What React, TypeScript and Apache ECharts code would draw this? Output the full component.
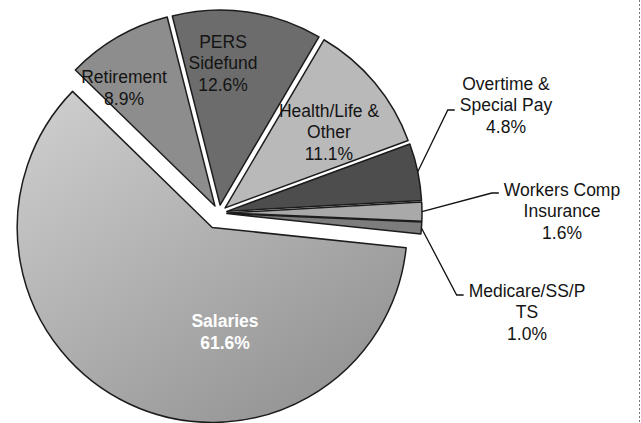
import React, { useEffect, useRef } from "react";
import * as echarts from "echarts";

// ---- data ----
const categories = [
  "Salaries",
  "Retirement",
  "PERS Sidefund",
  "Health/Life & Other",
  "Overtime & Special Pay",
  "Workers Comp Insurance",
  "Medicare/SS/PTS",
];
const values = [61.6, 8.9, 12.6, 11.1, 4.8, 1.6, 1.0];
const labelLines = [
  "Salaries",
  "Retirement",
  "PERS\nSidefund",
  "Health/Life &\nOther",
  "Overtime &\nSpecial Pay",
  "Workers Comp\nInsurance",
  "Medicare/SS/P\nTS",
];

// ---- styles / layout (not data) ----
const sliceColors: any[] = [
  {
    type: "linear",
    x: 0,
    y: 0,
    x2: 0.8,
    y2: 1,
    colorStops: [
      { offset: 0, color: "#d0d0d0" },
      { offset: 1, color: "#929292" },
    ],
  },
  "#8d8d8d",
  "#6c6c6c",
  "#b9b9b9",
  "#4d4d4d",
  "#a9a9a9",
  "#7d7d7d",
];
// label block centres (px) and leader anchor offset
const labelPlace: Record<string, { x: number; y: number; lead?: number }> = {
  "Salaries": { x: 225, y: 332 },
  "Retirement": { x: 124, y: 88 },
  "PERS Sidefund": { x: 223, y: 63 },
  "Health/Life & Other": { x: 329, y: 132 },
  "Overtime & Special Pay": { x: 506, y: 105, lead: 5 },
  "Workers Comp Insurance": { x: 562, y: 211, lead: -18 },
  "Medicare/SS/PTS": { x: 527, y: 312, lead: -17 },
};
const outsideNames = new Set([
  "Overtime & Special Pay",
  "Workers Comp Insurance",
  "Medicare/SS/PTS",
]);

const FONT = "'Liberation Sans', Arial, sans-serif";
const CENTER = [219, 213];
const RADIUS = 195;
const OFFSET_OTHERS = 8;
const OFFSET_SALARIES = 16;

const hidden = {
  color: "rgba(0,0,0,0)",
  borderColor: "rgba(0,0,0,0)",
  borderWidth: 0,
};

function sliceData(visible: (i: number) => boolean) {
  return categories.map((name, i) => {
    const vis = visible(i);
    const itemStyle = vis
      ? { color: sliceColors[i], borderColor: "#1c1c1c", borderWidth: 1.5 }
      : hidden;
    return {
      name,
      value: values[i],
      selected: true,
      itemStyle,
      select: { itemStyle },
      label: { show: false },
      labelLine: { show: false },
    };
  });
}

function labelData() {
  return categories.map((name, i) => {
    const isSal = i === 0;
    const outside = outsideNames.has(name);
    return {
      name,
      value: values[i],
      itemStyle: hidden,
      label: {
        show: true,
        position: outside ? "outside" : "inside",
        formatter: () => `${labelLines[i]}\n${values[i].toFixed(1)}%`,
        color: isSal ? "#ffffff" : "#141414",
        fontWeight: isSal ? "bold" : "normal",
        fontSize: 17.5,
        lineHeight: 21.5,
        fontFamily: FONT,
        align: "center",
      },
      labelLine: {
        show: outside,
        lineStyle: { color: "#111", width: 1.3 },
      },
    };
  });
}

function labelLayout(params: any) {
  const name = categories[params.dataIndex];
  const p = labelPlace[name];
  if (!p) return {};
  const res: any = {
    x: p.x,
    y: p.y,
    align: "center",
    verticalAlign: "middle",
  };
  if (outsideNames.has(name) && params.labelLinePoints) {
    const s = params.labelLinePoints[0];
    // move start point with the exploded slice
    const dx = s[0] - CENTER[0];
    const dy = s[1] - CENTER[1];
    const len = Math.sqrt(dx * dx + dy * dy) || 1;
    const sx = s[0] + (dx / len) * OFFSET_OTHERS;
    const sy = s[1] + (dy / len) * OFFSET_OTHERS;
    const left = p.x - params.labelRect.width / 2;
    const ay = p.y + (p.lead || 0);
    res.labelLinePoints = [
      [sx, sy],
      [left - 12, ay],
      [left - 5, ay],
    ];
  }
  return res;
}

export default function App() {
  const ref = useRef<HTMLDivElement>(null);
  useEffect(() => {
    if (!ref.current) return;
    const chart = echarts.init(ref.current, undefined, { renderer: "svg" });
    const common = {
      type: "pie",
      center: CENTER,
      radius: [0, RADIUS],
      startAngle: -6,
      clockwise: true,
      avoidLabelOverlap: false,
      emphasis: { disabled: true },
      animation: false,
    };
    chart.setOption({
      animation: false,
      backgroundColor: "#ffffff",
      series: [
        {
          ...common,
          name: "others",
          selectedMode: "multiple",
          selectedOffset: OFFSET_OTHERS,
          data: sliceData((i) => i !== 0),
        },
        {
          ...common,
          name: "salaries",
          selectedMode: "multiple",
          selectedOffset: OFFSET_SALARIES,
          data: sliceData((i) => i === 0),
        },
        {
          ...common,
          name: "labels",
          selectedMode: false,
          silent: true,
          data: labelData(),
          labelLayout,
        },
      ],
      graphic: [
        {
          type: "line",
          shape: { x1: 639.5, y1: 0, x2: 639.5, y2: 423 },
          style: { stroke: "#777", lineWidth: 1, lineDash: [2, 2] },
        },
      ],
    });
    return () => chart.dispose();
  }, []);
  return (
    <div
      ref={ref}
      style={{ position: "fixed", left: 0, top: 0, width: 641, height: 423 }}
    />
  );
}
